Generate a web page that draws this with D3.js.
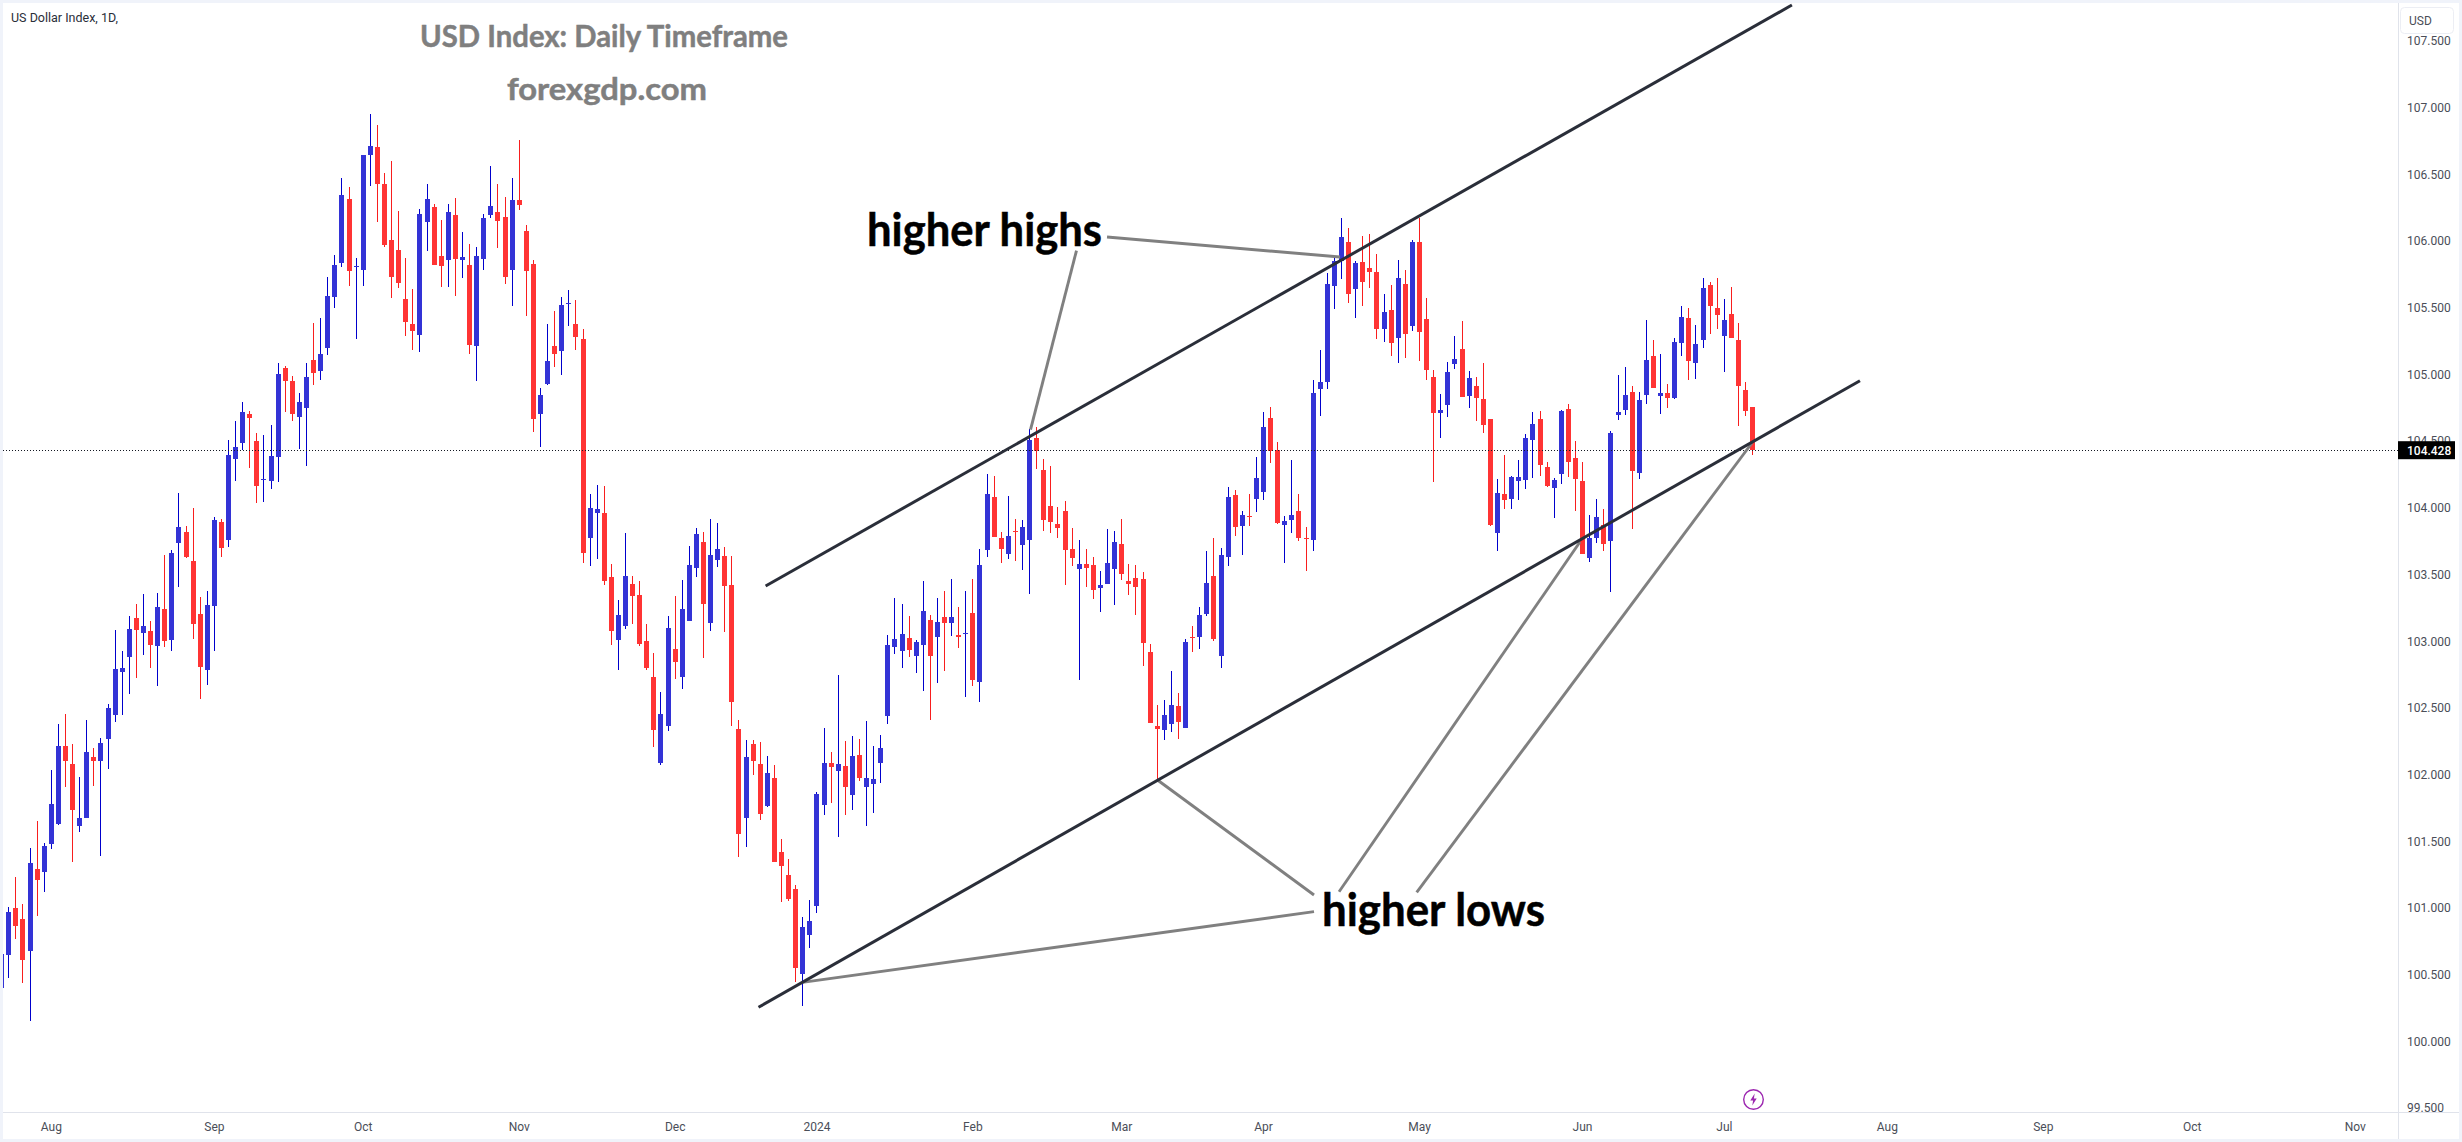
<!DOCTYPE html>
<html><head><meta charset="utf-8"><title>US Dollar Index, 1D</title>
<script src="https://cdn.jsdelivr.net/npm/d3@7"></script>
<style>html,body{margin:0;padding:0;background:#fff;overflow:hidden}svg{display:block}</style>
</head><body><svg id="c" width="2462" height="1142"></svg>
<script>
const opens=[100.396,100.647,100.997,100.912,100.675,101.289,101.264,101.477,101.625,102.209,102.075,101.611,101.671,102.127,102.097,102.263,102.444,102.766,102.878,103.170,103.058,103.072,102.960,103.238,103.006,103.733,103.814,103.596,103.200,102.779,103.260,103.891,103.754,104.363,104.481,104.699,104.497,104.205,104.197,104.377,
105.043,104.947,104.677,104.745,105.103,105.021,105.193,105.575,105.832,106.312,105.802,105.780,106.640,106.700,106.424,106.004,105.928,105.562,105.373,105.291,106.138,106.252,105.884,105.854,106.192,105.854,105.816,105.209,105.862,106.192,106.214,106.176,105.780,106.304,106.072,105.824,104.699,104.923,105.209,105.171,105.523,105.373,105.261,
103.770,103.956,103.956,103.476,103.005,103.109,103.424,103.341,102.999,102.726,102.084,102.359,102.937,102.726,103.149,103.543,103.739,103.133,103.604,103.635,103.418,102.338,101.671,102.224,102.074,101.759,101.970,101.417,101.242,101.138,100.502,100.792,101.010,101.768,102.084,102.022,102.059,101.842,102.142,101.903,101.924,102.084,
102.436,102.953,102.922,103.020,102.885,102.968,103.155,103.026,103.176,103.133,103.041,103.050,103.207,102.690,103.681,104.076,103.770,103.650,103.819,103.718,103.754,104.519,104.281,104.008,103.874,103.972,103.687,103.537,103.574,103.568,103.393,103.424,103.537,103.724,103.448,103.470,103.461,102.916,102.359,102.332,102.374,
102.512,102.346,103.024,103.027,103.199,103.487,102.885,103.629,104.091,103.860,103.937,104.062,104.115,104.669,104.429,103.866,103.905,103.973,103.770,103.756,104.886,104.939,105.659,105.846,105.988,105.635,105.840,105.793,105.763,105.336,105.478,105.268,105.674,105.360,105.988,105.410,104.977,104.708,104.767,105.075,105.188,104.835,104.909,104.812,104.663,103.810,104.100,104.062,104.198,104.207,104.503,104.663,104.302,104.145,104.248,104.737,104.370,104.198,103.620,103.771,103.866,103.747,104.693,104.729,104.865,104.257,104.841,105.135,104.835,104.856,104.820,105.232,105.419,105.081,105.253,105.665,105.493,105.283,105.449,105.253,104.880,104.752];
const closes=[100.655,100.967,100.860,100.609,101.333,101.204,101.461,101.775,102.209,102.097,101.731,101.671,102.165,102.097,102.233,102.496,102.788,102.799,103.088,103.080,103.110,102.968,103.252,103.000,103.656,103.853,103.626,103.123,102.801,103.268,103.904,103.695,104.393,104.453,104.715,104.669,104.158,104.211,104.385,104.999,
104.947,104.699,104.789,104.977,105.007,105.149,105.583,105.815,106.342,105.772,105.808,106.640,106.708,106.424,105.966,105.726,105.682,105.390,105.321,106.198,106.312,105.816,105.810,106.214,105.862,105.875,105.218,105.884,106.168,106.258,106.146,105.726,106.304,106.266,105.772,104.661,104.841,105.097,105.149,105.515,105.529,105.278,103.656,
103.993,103.984,103.448,103.072,103.191,103.485,103.335,102.974,102.794,102.332,102.451,103.093,102.840,103.237,103.568,103.800,103.274,103.641,103.687,103.409,102.540,101.551,102.127,102.099,101.701,102.007,101.343,101.310,101.062,100.544,100.854,100.899,101.851,102.084,102.053,102.075,101.903,102.136,101.970,101.970,101.961,102.194,
102.968,103.011,103.051,102.931,102.989,103.222,102.885,103.139,103.133,103.176,103.026,103.054,102.705,103.568,104.100,103.776,103.687,103.785,103.815,103.852,104.507,104.425,103.904,103.889,103.843,103.681,103.620,103.574,103.543,103.381,103.418,103.583,103.739,103.500,103.424,103.403,102.983,102.384,102.338,102.442,102.518,
102.390,102.992,103.018,103.193,103.433,103.012,103.644,104.077,103.851,103.943,103.930,104.219,104.601,104.423,103.884,103.899,103.943,103.771,103.766,104.856,104.939,105.674,105.846,106.027,105.600,105.834,105.689,105.763,105.336,105.464,105.232,105.718,105.301,105.988,105.315,105.028,104.708,104.729,105.013,105.111,104.826,104.966,104.820,104.616,103.866,104.106,104.056,104.228,104.228,104.521,104.625,104.317,104.159,104.204,104.723,104.340,104.213,103.650,103.771,103.928,103.724,104.557,104.714,104.841,104.272,104.806,105.105,104.895,104.856,104.820,105.238,105.428,105.096,105.224,105.644,105.508,105.443,105.404,105.268,104.909,104.723,104.428];
const highs=[100.800,101.002,101.229,101.027,101.444,101.646,101.483,102.031,102.375,102.449,102.225,101.977,102.405,102.195,102.269,102.526,103.080,102.921,103.183,103.274,103.350,103.148,103.358,103.642,103.680,104.107,103.861,103.995,103.328,103.372,103.926,103.910,104.505,104.647,104.789,104.721,104.557,104.541,104.617,105.081,
105.059,104.988,104.857,105.081,105.381,105.419,105.725,105.891,106.467,106.399,105.870,106.640,106.948,106.866,106.507,106.596,106.222,105.870,105.635,106.236,106.424,106.274,106.154,106.274,106.318,106.064,105.974,105.952,106.195,106.558,106.424,106.326,106.467,106.755,106.116,105.854,104.895,105.373,105.471,105.575,105.629,105.553,105.338,
104.100,104.168,104.158,103.574,103.305,103.806,103.485,103.448,103.124,102.907,102.616,103.182,103.335,103.455,103.709,103.843,103.816,103.910,103.883,103.699,103.635,102.408,102.255,102.255,102.240,102.136,102.068,101.511,101.362,101.172,100.927,101.055,101.867,102.344,102.166,102.742,102.249,102.286,102.261,102.399,102.209,102.292,
103.041,103.320,103.274,103.185,103.005,103.448,103.191,103.320,103.372,103.461,103.253,103.372,103.461,103.687,104.250,104.235,103.816,104.085,103.910,103.904,104.584,104.599,104.360,104.308,104.002,104.045,103.843,103.754,103.687,103.626,103.522,103.837,103.822,103.910,103.574,103.568,103.516,102.974,102.518,102.555,102.772,
102.609,103.016,103.110,103.253,103.673,103.771,103.694,104.154,104.130,103.970,104.100,104.376,104.714,104.752,104.488,103.934,104.355,104.100,103.851,104.954,105.179,105.760,105.867,106.166,106.095,105.846,106.030,106.048,105.899,105.600,105.665,105.855,105.778,106.003,106.169,105.570,105.028,104.850,105.090,105.283,105.395,105.019,104.977,105.081,104.663,104.213,104.394,104.231,104.355,104.551,104.714,104.720,104.340,104.219,104.729,104.773,104.497,104.340,103.943,104.062,103.988,104.571,104.995,105.052,104.909,104.865,105.404,105.253,105.149,104.924,105.268,105.508,105.493,105.369,105.718,105.689,105.718,105.561,105.650,105.381,104.936,104.752];
const lows=[100.300,100.470,100.765,100.434,100.148,100.937,101.117,101.439,101.619,101.903,101.341,101.565,101.671,101.911,101.384,102.037,102.389,102.444,102.599,102.719,102.891,102.796,102.659,102.954,102.921,103.402,103.620,103.011,102.564,102.667,102.921,103.626,103.702,104.197,104.426,104.295,104.035,104.041,104.139,104.189,
104.718,104.647,104.437,104.311,104.917,104.953,105.141,105.493,105.802,105.660,105.261,105.660,106.408,106.138,105.952,105.570,105.644,105.283,105.179,105.163,105.922,105.816,105.652,105.652,105.583,105.720,105.149,104.947,105.780,106.168,105.944,105.674,105.510,106.228,105.433,104.565,104.453,104.917,105.051,104.991,105.359,105.179,103.582,
103.559,103.611,103.418,102.968,102.784,103.084,103.124,102.959,102.784,102.203,102.071,102.322,102.711,102.638,103.149,103.476,102.870,103.072,103.553,103.066,102.359,101.377,101.453,101.992,101.655,101.753,101.340,101.040,101.046,100.440,100.260,100.694,100.958,101.692,101.784,101.530,101.692,101.732,101.949,101.609,101.707,101.934,
102.374,102.901,102.794,102.876,102.757,102.622,102.405,102.686,102.772,103.035,102.944,102.576,102.659,102.540,103.626,103.776,103.583,103.611,103.598,103.531,103.351,104.290,103.822,103.806,103.770,103.418,103.559,102.705,103.403,103.311,103.216,103.424,103.268,103.455,103.341,103.191,102.809,102.384,101.958,102.255,102.316,
102.263,102.346,102.915,102.938,103.187,102.998,102.799,103.561,103.786,103.644,103.860,103.964,104.056,104.331,103.878,103.582,103.810,103.751,103.522,103.673,104.684,104.886,105.487,105.713,105.532,105.419,105.508,105.644,105.262,105.238,105.135,105.081,105.120,105.321,105.096,104.954,104.189,104.521,104.678,105.037,104.826,104.743,104.648,104.557,103.860,103.673,103.988,103.988,104.056,104.139,104.219,104.234,104.153,103.919,104.174,104.228,103.973,103.650,103.587,103.730,103.673,103.362,104.651,104.693,103.836,104.213,104.773,104.895,104.699,104.743,104.812,105.135,104.954,104.963,105.194,105.301,105.336,105.013,105.268,104.610,104.684,104.394];
const priceTicks=[99.5,100,100.5,101,101.5,102,102.5,103,103.5,104,104.5,105,105.5,106,106.5,107,107.5];
const timeLabels=["Aug","Sep","Oct","Nov","Dec","2024","Feb","Mar","Apr","May","Jun","Jul","Aug","Sep","Oct","Nov"];
const timeBars=[7,30,51,73,95,115,137,158,178,200,223,243,266,288,309,332];
const lastPrice=104.428;
const channelLines=[[[107.83,103.410],[252.6,107.765]],[[106.83,100.252],[262.2,104.949]]];
const pointerLines=[[[155.99,106.026],[188.86,105.876]],[[151.68,105.924],[145.2,104.583]],[[185.19,100.969],[113.02,100.439]],[[185.19,101.094],[163.11,101.956]],[[188.72,101.118],[222.7,103.740]],[[199.67,101.114],[246.96,104.482]]];

const W=2462,H=1142,L=3,T=3,AX=2398,R=2459,BX=1112,B=1139;
const svg=d3.select("#c");
const x=d3.scaleLinear().domain([0,247]).range([1.2,1752.2]);
const y=d3.scaleLinear().domain([106,100]).range([240.5,1040.9]);
const AXFONT="Roboto, sans-serif";

svg.append("rect").attr("width",W).attr("height",H).attr("fill","#f0f3fa");
svg.append("rect").attr("x",L).attr("y",T).attr("width",R-L).attr("height",B-T).attr("fill","#fff");
const defs=svg.append("defs");
defs.append("clipPath").attr("id","plot").append("rect").attr("x",L).attr("y",T).attr("width",AX-L).attr("height",BX-T);
const plot=svg.append("g").attr("clip-path","url(#plot)");

const bars=d3.range(opens.length);
const up=i=>closes[i]>=opens[i];
plot.append("g").selectAll("rect").data(bars).join("rect")
  .attr("x",i=>Math.round(x(i))).attr("width",1)
  .attr("y",i=>y(highs[i])).attr("height",i=>y(lows[i])-y(highs[i]))
  .attr("fill",i=>up(i)?"#0000cc":"#f81e1e").attr("shape-rendering","crispEdges");
plot.append("g").selectAll("rect").data(bars).join("rect")
  .attr("x",i=>Math.round(x(i))-2).attr("width",5)
  .attr("y",i=>y(Math.max(opens[i],closes[i])))
  .attr("height",i=>Math.max(1,Math.abs(y(opens[i])-y(closes[i]))))
  .attr("fill",i=>up(i)?"#3333d6":"#ff3434").attr("shape-rendering","crispEdges");

plot.append("line").attr("x1",L).attr("x2",AX).attr("y1",y(lastPrice)).attr("y2",y(lastPrice))
  .attr("stroke","#131722").attr("stroke-width",1).attr("stroke-dasharray","1 2").attr("shape-rendering","crispEdges");

const seg=d3.line().x(d=>x(d[0])).y(d=>y(d[1]));
plot.append("g").selectAll("path").data(pointerLines).join("path").attr("d",seg)
  .attr("stroke","#808080").attr("stroke-width",2.9).attr("fill","none");
plot.append("g").selectAll("path").data(channelLines).join("path").attr("d",seg)
  .attr("stroke","#2a2e39").attr("stroke-width",3).attr("fill","none");

// axis frames
svg.append("line").attr("x1",AX+.5).attr("x2",AX+.5).attr("y1",T).attr("y2",B).attr("stroke","#e0e3eb");
svg.append("line").attr("x1",L).attr("x2",R).attr("y1",BX+.5).attr("y2",BX+.5).attr("stroke","#e0e3eb");

// price axis
const yAxis=d3.axisRight(y).tickValues(priceTicks).tickFormat(d3.format(".3f")).tickSize(0);
const ya=svg.append("g").attr("transform",`translate(${AX+9},0)`).call(yAxis);
ya.select(".domain").remove();
ya.selectAll("text").attr("x",0).attr("font-family",AXFONT).attr("font-size",12).attr("fill","#4a4e58").attr("dy",".36em");

// time axis
const xAxis=d3.axisBottom(x).tickValues(timeBars).tickFormat((d,i)=>timeLabels[i]).tickSize(0);
const xa=svg.append("g").attr("transform",`translate(0,${BX})`).call(xAxis);
xa.select(".domain").remove();
xa.selectAll("text").attr("y",15).attr("dy",".36em").attr("text-anchor","middle").attr("font-family",AXFONT).attr("font-size",12).attr("fill","#4a4e58");

// USD badge
svg.append("rect").attr("x",2400.5).attr("y",7.5).attr("width",53).attr("height",26).attr("rx",4).attr("fill","#fff").attr("stroke","#eceef4");
svg.append("text").attr("x",2409).attr("y",25).attr("font-family",AXFONT).attr("font-size",12).attr("fill","#4a4e58").text("USD");

// last price label
svg.append("rect").attr("x",AX).attr("y",y(lastPrice)-9).attr("width",57).attr("height",18).attr("fill","#000");
svg.append("text").attr("x",AX+9).attr("y",y(lastPrice)).attr("dy",".36em").attr("font-family",AXFONT).attr("font-size",12).attr("font-weight",500).attr("fill","#fff").text(d3.format(".3f")(lastPrice));

// legend
svg.append("text").attr("x",11).attr("y",22).attr("font-family",AXFONT).attr("font-size",12.5).attr("fill","#2a2e39").text("US Dollar Index, 1D,");

// annotations
const big=(t,xx,yy,fs,w,col)=>svg.append("text").attr("x",xx).attr("y",yy).attr("font-family","Lato, sans-serif").attr("font-weight",700)
  .attr("font-size",fs).attr("fill",col).attr("stroke",col).attr("stroke-width",.5).attr("textLength",w).attr("lengthAdjust","spacingAndGlyphs").text(t);
big("USD Index: Daily Timeframe",420,47,31,368,"#7f7f7f");
big("forexgdp.com",507,100,31,200,"#7f7f7f");
big("higher highs",867,246,45,235,"#000");
big("higher lows",1322,926,45,223,"#000");

// lightning badge
const ic=svg.append("g").attr("transform","translate(1753.5,1099.5)");
ic.append("circle").attr("r",9.8).attr("fill","#fff").attr("stroke","#9c27b0").attr("stroke-width",1.4);
ic.append("path").attr("d","M1.2,-6 L-3.2,1 L-0.4,1 L-1.2,6 L3.2,-1 L0.4,-1 Z").attr("fill","#9c27b0");
</script></body></html>
